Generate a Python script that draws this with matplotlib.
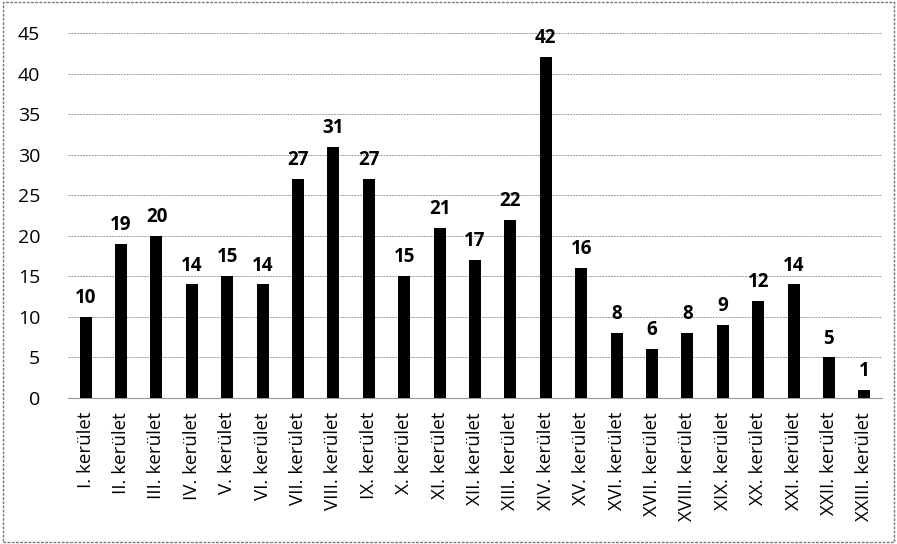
import matplotlib.pyplot as plt
from matplotlib.patches import Rectangle

districts = ['I.', 'II.', 'III.', 'IV.', 'V.', 'VI.', 'VII.', 'VIII.', 'IX.', 'X.',
             'XI.', 'XII.', 'XIII.', 'XIV.', 'XV.', 'XVI.', 'XVII.', 'XVIII.', 'XIX.',
             'XX.', 'XXI.', 'XXII.', 'XXIII.']
labels = [d + ' kerület' for d in districts]
counts = [10, 19, 20, 14, 15, 14, 27, 31, 27, 15, 21, 17, 22, 42, 16, 8, 6, 8, 9, 12, 14, 5, 1]
yticks = [0, 5, 10, 15, 20, 25, 30, 35, 40, 45]

plt.rcParams['font.family'] = ['Open Sans', 'DejaVu Sans']

fig = plt.figure(figsize=(8.97, 5.44), dpi=100)
ax = fig.add_axes([68 / 897, 146 / 544, 814 / 897, 365 / 544])

x = range(len(counts))
bars = ax.bar(x, counts, width=0.34, color='black', zorder=3)
for b, v in zip(bars, counts):
    ax.text(b.get_x() + b.get_width() / 2, v + 1.1, str(v), ha='center', va='bottom',
            fontsize=13.5, fontweight='bold')

ax.set_xlim(-0.5, len(counts) - 0.5)
ax.set_ylim(0, 45)
ax.set_yticks(yticks)
ax.set_xticks(list(x))
ax.set_xticklabels(labels, rotation=90, fontsize=13.5)
ax.tick_params(axis='y', labelsize=14, length=0, pad=20)
ax.tick_params(axis='x', length=0, pad=10)
ax.yaxis.grid(True, color='#999999', linestyle=(0, (2, 1)), linewidth=0.7, zorder=0)
for s in ['top', 'right', 'left']:
    ax.spines[s].set_visible(False)
ax.spines['bottom'].set_color('#999999')
ax.spines['bottom'].set_linestyle((0, (2, 1)))

fig.patches.append(Rectangle((0.003, 0.003), 0.994, 0.994, transform=fig.transFigure,
                             fill=False, edgecolor='#777777', linewidth=1,
                             linestyle=(0, (2, 1))))

fig.savefig('out.png', dpi=100)
